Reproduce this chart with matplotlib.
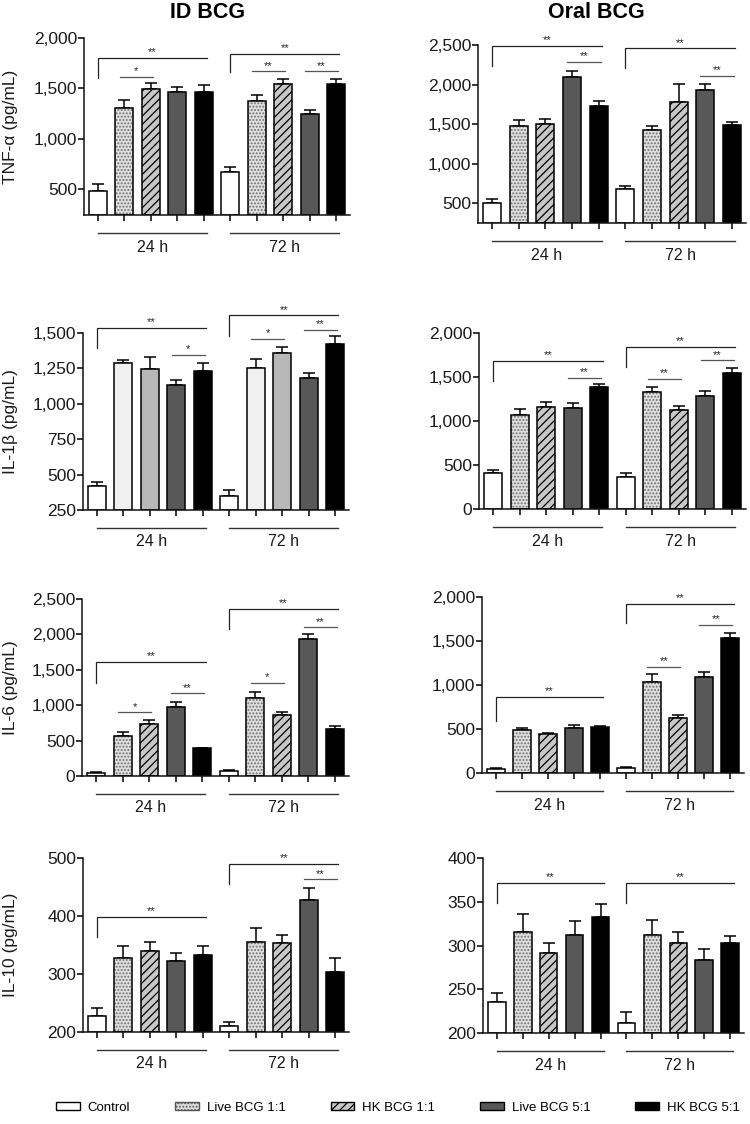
import matplotlib
matplotlib.use("Agg")
import matplotlib.pyplot as plt
import matplotlib.transforms as mtransforms
from matplotlib.patches import Patch
from matplotlib.ticker import FuncFormatter
from matplotlib import font_manager

plt.rcParams['font.family'] = ['Liberation Sans', 'DejaVu Sans']
plt.rcParams['hatch.linewidth'] = 0.9

# ---------------- data ----------------
treatments = ['Control', 'Live BCG 1:1', 'HK BCG 1:1', 'Live BCG 5:1', 'HK BCG 5:1']
times = ['24 h', '72 h']
col_titles = ['ID BCG', 'Oral BCG']
ylabels = ['TNF-α (pg/mL)', 'IL-1β (pg/mL)', 'IL-6 (pg/mL)', 'IL-10 (pg/mL)']

# values: 24 h (5 treatments) followed by 72 h (5 treatments)
tnf_id = [480, 1300, 1490, 1460, 1467, 667, 1373, 1540, 1243, 1540]
tnf_id_err = [65, 83, 60, 50, 66, 50, 60, 53, 40, 50]
tnf_oral = [508, 1475, 1496, 2100, 1735, 676, 1420, 1781, 1933, 1487]
tnf_oral_err = [42, 71, 67, 72, 54, 46, 59, 227, 71, 46]

il1b_id = [422, 1288, 1245, 1134, 1233, 349, 1252, 1358, 1179, 1422]
il1b_id_err = [28, 23, 85, 31, 57, 43, 64, 43, 38, 54]
il1b_oral = [413, 1072, 1159, 1151, 1387, 360, 1330, 1121, 1281, 1545]
il1b_oral_err = [30, 68, 56, 59, 30, 45, 57, 45, 57, 61]

il6_id = [40, 566, 731, 976, 391, 65, 1104, 858, 1929, 665]
il6_id_err = [15, 52, 58, 64, 11, 20, 77, 47, 71, 47]
il6_oral = [45, 485, 443, 515, 526, 57, 1038, 625, 1087, 1530]
il6_oral_err = [15, 26, 10, 30, 10, 15, 87, 32, 64, 64]

il10_id = [227, 327, 339, 322, 333, 210, 355, 354, 428, 303]
il10_id_err = [15, 21, 17, 15, 16, 7, 24, 14, 20, 24]
il10_oral = [236, 316, 291, 312, 333, 212, 312, 303, 284, 303]
il10_oral_err = [10, 20, 12, 16, 15, 12, 17, 12, 12, 8]

# significance: (first bar, last bar, y, leg-bottom or None, label)
sig_tnf_id = [(0, 4, 1800, 1600, '**'), (1, 2, 1617, None, '*'),
              (5, 9, 1843, 1657, '**'), (6, 7, 1667, None, '**'), (8, 9, 1667, None, '**')]
sig_tnf_oral = [(0, 4, 2492, 2235, '**'), (3, 4, 2290, None, '**'),
                (5, 9, 2458, 2205, '**'), (8, 9, 2108, None, '**')]
sig_il1b_id = [(0, 4, 1535, 1394, '**'), (3, 4, 1347, None, '*'),
               (5, 9, 1625, 1481, '**'), (6, 7, 1458, None, '*'), (8, 9, 1524, None, '**')]
sig_il1b_oral = [(0, 4, 1679, 1452, '**'), (3, 4, 1490, None, '**'),
                 (5, 9, 1841, 1614, '**'), (6, 7, 1482, None, '**'), (8, 9, 1690, None, '**')]
sig_il6_id = [(0, 4, 1607, 1319, '**'), (1, 2, 898, None, '*'), (3, 4, 1167, None, '**'),
              (5, 9, 2358, 2075, '**'), (6, 7, 1319, None, '*'), (8, 9, 2099, None, '**')]
sig_il6_oral = [(0, 4, 864, 596, '**'),
                (5, 9, 1919, 1700, '**'), (6, 7, 1208, None, '**'), (8, 9, 1680, None, '**')]
sig_il10_id = [(0, 4, 398, 363, '**'), (5, 9, 490, 456, '**'), (8, 9, 463, None, '**')]
sig_il10_oral = [(0, 4, 372, 349, '**'), (5, 9, 372, 349, '**')]

# ---------------- layout / style ----------------
W, H = 750, 1124
fig = plt.figure(figsize=(W / 100, H / 100), dpi=100)

panels = [
    # (col, values, errs, sigs, ylim, ticks, x0, x1, ytop_px, ybot_px, plain)
    (0, tnf_id, tnf_id_err, sig_tnf_id, (240, 2000), [500, 1000, 1500, 2000], 84, 350, 38, 215, False),
    (1, tnf_oral, tnf_oral_err, sig_tnf_oral, (250, 2500), [500, 1000, 1500, 2000, 2500], 478, 746, 45, 223, False),
    (0, il1b_id, il1b_id_err, sig_il1b_id, (250, 1500), [250, 500, 750, 1000, 1250, 1500], 83, 349, 333, 510, True),
    (1, il1b_oral, il1b_oral_err, sig_il1b_oral, (0, 2000), [0, 500, 1000, 1500, 2000], 479, 746, 333, 509, False),
    (0, il6_id, il6_id_err, sig_il6_id, (0, 2500), [0, 500, 1000, 1500, 2000, 2500], 82, 349, 599, 776, False),
    (1, il6_oral, il6_oral_err, sig_il6_oral, (0, 2000), [0, 500, 1000, 1500, 2000], 482, 744, 597, 773, False),
    (0, il10_id, il10_id_err, sig_il10_id, (200, 500), [200, 300, 400, 500], 83, 349, 858, 1032, False),
    (1, il10_oral, il10_oral_err, sig_il10_oral, (200, 400), [200, 250, 300, 350, 400], 483, 744, 858, 1033, False),
]

face = ['white', '#dedede', '#c8c8c8', '#585858', 'black']
hatch = [None, '.....', '////', None, None]
hatch_col = [None, '#6e6e6e', 'black', None, None]
face_plain = ['white', '#f0f0f0', '#b8b8b8', '#585858', 'black']

TXT = '#1a1a1a'
fmt = FuncFormatter(lambda v, p: f'{int(v):,}')
bw = 0.68
TICK_FS = 12.5
LAB_FS = 12.5
GRP_FS = 11.5

for idx, (col, vals, errs, sigs, ylim, ticks, x0, x1, yt, yb, plain) in enumerate(panels):
    ax = fig.add_axes([x0 / W, 1 - yb / H, (x1 - x0) / W, (yb - yt) / H])
    xs = list(range(len(vals)))
    ti = [i % 5 for i in xs]
    base = ylim[0]
    heights = [v - base for v in vals]
    for x, h, t in zip(xs, heights, ti):
        if plain:
            ax.bar(x, h, bw, bottom=base, color=face_plain[t], edgecolor='black', linewidth=1.1, zorder=2)
        else:
            if hatch[t]:
                ax.bar(x, h, bw, bottom=base, color=face[t], edgecolor=hatch_col[t], hatch=hatch[t],
                       linewidth=0, zorder=2)
                ax.bar(x, h, bw, bottom=base, fill=False, edgecolor='black', linewidth=1.1, zorder=3)
            else:
                ax.bar(x, h, bw, bottom=base, color=face[t], edgecolor='black', linewidth=1.1, zorder=2)
    ax.errorbar(xs, vals, yerr=[[0] * len(errs), errs], fmt='none', ecolor='black',
                elinewidth=1.1, capsize=4.2, capthick=1.1, zorder=1)

    ax.set_xlim(-0.53, 9.53)
    ax.set_ylim(*ylim)
    ax.set_yticks(ticks)
    ax.yaxis.set_major_formatter(fmt)
    ax.set_xticks(xs)
    ax.set_xticklabels([])
    for s in ['top', 'right']:
        ax.spines[s].set_visible(False)
    for s in ['left', 'bottom']:
        ax.spines[s].set_linewidth(1.1)
        ax.spines[s].set_color('#111111')
    ax.tick_params(axis='y', length=4, width=1.1, labelsize=TICK_FS, labelcolor=TXT, pad=1)
    ax.tick_params(axis='x', length=4, width=1.1, direction='out')
    ax.set_facecolor('none')

    # significance brackets
    for (i, j, y, leg, lab) in sigs:
        if leg is not None:
            ax.plot([i, i, j + 0.13], [leg, y, y], color='#222222', lw=0.9,
                    clip_on=False, solid_joinstyle='miter', zorder=4)
            xm = (i + j + 0.13) / 2
        else:
            ax.plot([i - 0.18, j + 0.08], [y, y], color='#555555', lw=0.9, clip_on=False, zorder=4)
            xm = (i - 0.18 + j + 0.08) / 2
        ax.annotate(lab, (xm, y), xytext=(0, 0.5), textcoords='offset points', ha='center',
                    va='bottom', fontsize=8, color='#222222', annotation_clip=False)

    # time-group lines and labels under the axis
    off_line = mtransforms.ScaledTranslation(0, -0.18, fig.dpi_scale_trans)
    off_text = mtransforms.ScaledTranslation(0, -0.32, fig.dpi_scale_trans)
    bt = mtransforms.blended_transform_factory(ax.transData, ax.transAxes)
    for g, tlab in enumerate(times):
        a, b = 5 * g, 5 * g + 4
        ax.plot([a, b + 0.12], [0, 0], transform=bt + off_line, color='#333333', lw=1.0, clip_on=False)
        ax.text((a + b + 0.12) / 2, 0, tlab, transform=bt + off_text, ha='center', va='center',
                fontsize=GRP_FS, color=TXT)

    if col == 0:
        fig.text(11 / W, 1 - ((yt + yb) / 2) / H, ylabels[idx // 2], rotation=90, ha='center',
                 va='center', fontsize=LAB_FS, color=TXT)

fig.text(208 / W, 1 - 13 / H, col_titles[0], ha='center', va='center', fontsize=15.5,
         fontweight='bold', color='black')
fig.text(596 / W, 1 - 13 / H, col_titles[1], ha='center', va='center', fontsize=15.5,
         fontweight='bold', color='black')

# legend
names = {f.name for f in font_manager.fontManager.ttflist}
if 'Liberation Sans Narrow' in names:
    leg_prop = {'family': ['Liberation Sans Narrow', 'Liberation Sans'], 'size': 11.5}
else:
    leg_prop = {'family': ['Liberation Sans'], 'size': 9.5}

handles = [
    Patch(facecolor=face[0], edgecolor='black', linewidth=1.0),
    Patch(facecolor=face[1], edgecolor='#555555', hatch='.....', linewidth=1.0),
    Patch(facecolor=face[2], edgecolor='black', hatch='////', linewidth=1.0),
    Patch(facecolor=face[3], edgecolor='black', linewidth=1.0),
    Patch(facecolor=face[4], edgecolor='black', linewidth=1.0),
]
fig.legend(handles, treatments, loc='center', bbox_to_anchor=(398 / W, 1 - 1108 / H), ncol=5,
           frameon=False, handlelength=1.8, handleheight=0.55, columnspacing=3.4,
           handletextpad=0.6, prop=leg_prop)

fig.savefig('out.png', dpi=100)
